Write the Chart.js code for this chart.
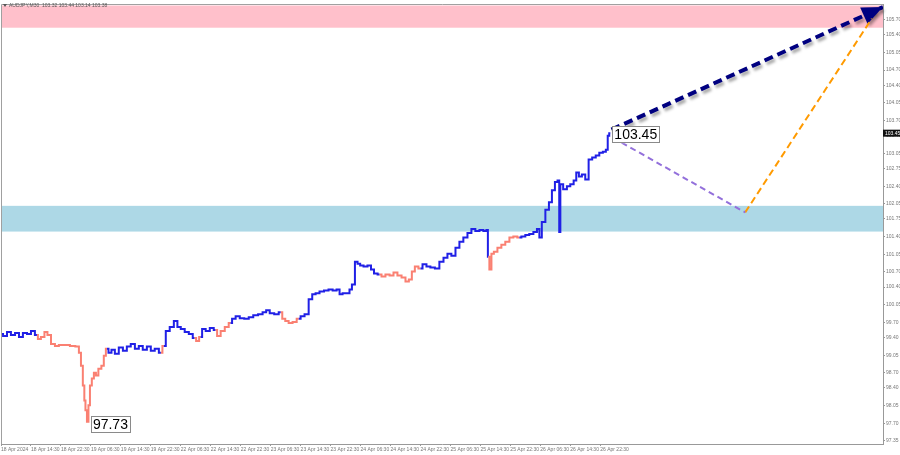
<!DOCTYPE html>
<html>
<head>
<meta charset="utf-8">
<script src="https://cdn.jsdelivr.net/npm/chart.js@4.4.1/dist/chart.umd.min.js"></script>
<style>
  html, body { margin: 0; padding: 0; background: #fff; }
</style>
</head>
<body>
<canvas id="chart" width="900" height="455"></canvas>
<script>
// time axis: chart hours (weekend skipped), one label every 8 hours
const tickLabels = [
  '18 Apr 2024', '18 Apr 14:30', '18 Apr 22:30', '19 Apr 06:30', '19 Apr 14:30', '19 Apr 22:30',
  '22 Apr 06:30', '22 Apr 14:30', '22 Apr 22:30', '23 Apr 06:30', '23 Apr 14:30', '23 Apr 22:30',
  '24 Apr 06:30', '24 Apr 14:30', '24 Apr 22:30', '25 Apr 06:30', '25 Apr 14:30', '25 Apr 22:30',
  '26 Apr 06:30', '26 Apr 14:30', '26 Apr 22:30'
];
const tickStepHours = 8;
const priceTicks = [
  97.35, 97.70, 98.05, 98.40, 98.70, 99.05, 99.40, 99.70, 100.05, 100.40, 100.70, 101.05, 101.40,
  101.75, 102.05, 102.40, 102.75, 103.05, 103.40, 103.70, 104.05, 104.40, 104.70, 105.05, 105.40, 105.70
];

const barHour = [
  0, 1.1, 2.1, 3.2, 4.3, 5.3, 6.4, 7.5, 8.5, 9.6,
  10.1, 11.2, 12, 12.8, 13.9, 14.9, 16, 17.6, 19.2, 20.5, 21.1, 21.6, 22.1, 22.4, 22.7, 23.2, 23.5, 24, 24.5, 25.1, 25.6, 26.4, 27.2, 27.7, 28.3,
  29.1, 29.9, 30.9, 32, 33.1, 34.1, 35.2, 36.3, 37.3, 38.4, 39.5, 40.5, 41.6, 42.7,
  43.5, 44.5, 45.6, 46.7, 47.5, 48.5, 49.6, 50.7, 51.7, 52.5, 53.3,
  54.1, 55.2, 56.3, 57.3, 58.1, 59.2, 60.3, 61.3,
  62.1, 63.2, 64.3, 65.6, 66.7, 68, 69.3, 70.4, 71.2, 72.3, 73.6, 74.7,
  75.5, 76.3, 77.3, 78.4, 79.5,
  80.5, 81.6, 82.7, 83.5, 84.5, 85.6, 86.9, 88, 89.1, 90.1, 90.7, 91.7, 92.8, 93.3, 94.1, 94.9, 95.5, 96.3, 97.3, 98.4, 99.2, 100, 101.1,
  102.1, 103.2, 104.3, 105.3, 106.4, 107.5, 108.5, 109.3, 110.1, 110.9, 112,
  113.1, 114.1, 115.2, 116.5, 117.6, 118.7, 119.7, 120.8, 121.9, 122.9, 124, 125.1, 126.1, 127.2, 128.3, 129.3, 129.9, 130.1,
  130.7, 131.2, 132, 133.1, 134.1, 135.2, 136.3, 137.3, 138.4,
  139.5, 140.5, 141.6, 142.7, 143.5, 144, 144.8, 145.9, 146.7, 147.5, 148.3, 148.9, 149.2, 149.5, 150.7,
  151.5, 152.5, 153.3, 153.9, 154.7, 155.5, 156.5, 157.3, 158.4, 159.2, 160.3, 161.1, 161.9, 162.1, 162.7
];
const prices = [
  99.47, 99.43, 99.51, 99.45, 99.49, 99.41, 99.49, 99.47, 99.53, 99.45,
  99.37, 99.41, 99.51, 99.45, 99.27, 99.23, 99.25, 99.25, 99.23, 99.22, 99.10, 98.84, 98.45, 98.15, 97.96, 97.73, 98.06, 98.45, 98.59, 98.70, 98.65, 98.78, 98.84, 99.04, 99.18,
  99.10, 99.16, 99.08, 99.20, 99.14, 99.22, 99.27, 99.18, 99.23, 99.16, 99.22, 99.14, 99.18, 99.10,
  99.23, 99.53, 99.61, 99.73, 99.61, 99.57, 99.51, 99.47, 99.39, 99.33, 99.41,
  99.57, 99.53, 99.59, 99.55, 99.43, 99.53, 99.61, 99.69,
  99.77, 99.82, 99.78, 99.77, 99.80, 99.84, 99.86, 99.90, 99.94, 99.88, 99.86, 99.90,
  99.77, 99.73, 99.69, 99.71, 99.77,
  99.82, 99.86, 100.16, 100.26, 100.28, 100.31, 100.33, 100.35, 100.33, 100.35, 100.26, 100.28, 100.28, 100.35, 100.45, 100.90, 100.86, 100.83, 100.81, 100.83, 100.75, 100.67, 100.65,
  100.61, 100.65, 100.63, 100.69, 100.63, 100.59, 100.51, 100.55, 100.71, 100.81, 100.77,
  100.85, 100.81, 100.79, 100.77, 100.90, 100.98, 101.06, 101.02, 101.18, 101.30, 101.38, 101.47, 101.55, 101.51, 101.53, 101.51, 101.53, 101.00,
  100.75, 101.06, 101.10, 101.18, 101.24, 101.30, 101.38, 101.40, 101.38,
  101.40, 101.43, 101.45, 101.49, 101.55, 101.38, 101.69, 101.93, 102.08, 102.32, 102.48, 102.51, 101.49, 102.44, 102.34,
  102.40, 102.44, 102.51, 102.67, 102.59, 102.63, 102.53, 102.93, 102.97, 103.01, 103.06, 103.08, 103.12, 103.40, 103.45
];
// downward legs of the wave indicator (hour ranges drawn in salmon)
const redLegs = [[9.6, 28.3], [42.7, 43.5], [51.7, 53.3], [57.3, 61.3], [74.7, 79.5], [101.1, 112], [130.1, 138.4]];

// forecast paths
const mainTargetHour = [163, 235.5];
const mainTargetPrice = [103.52, 105.95];
const correctionHour = [163.4, 198.7];
const correctionPrice = [103.36, 101.88];
const extensionHour = [198.7, 232.5];
const extensionPrice = [101.88, 105.72];

const resistanceZone = [105.54, 105.98];
const supportZone = [101.50, 102.01];
const header = 'AUDJPY,M30  103.32 103.44 103.14 103.38';

const BLUE = '#2020e6';
const RED = '#fa8072';
const tinyFont = { family: 'Liberation Sans', size: 5 };

const pts = (xs, ys) => xs.map((x, i) => ({ x: x, y: ys[i] }));
const isRed = (a, b) => redLegs.some(r => a >= r[0] && b <= r[1]);

const zonePlugin = {
  id: 'zones',
  beforeDatasetsDraw(chart) {
    const { ctx, chartArea: a, scales: { y } } = chart;
    ctx.save();
    ctx.fillStyle = '#ffc0cb';
    ctx.fillRect(a.left, y.getPixelForValue(resistanceZone[1]), a.right - a.left,
      y.getPixelForValue(resistanceZone[0]) - y.getPixelForValue(resistanceZone[1]));
    ctx.fillStyle = '#add8e6';
    ctx.fillRect(a.left, y.getPixelForValue(supportZone[1]), a.right - a.left,
      y.getPixelForValue(supportZone[0]) - y.getPixelForValue(supportZone[1]));
    ctx.restore();
  }
};

// shadow + arrowhead on the main target line
const arrowPlugin = {
  id: 'arrow',
  beforeDatasetDraw(chart, args) {
    if (args.index !== 3) return;
    const ctx = chart.ctx;
    ctx.save();
    ctx.shadowColor = 'rgba(0,0,0,0.35)';
    ctx.shadowOffsetX = 2;
    ctx.shadowOffsetY = 3;
    ctx.shadowBlur = 3;
  },
  afterDatasetDraw(chart, args) {
    if (args.index !== 3) return;
    const ctx = chart.ctx;
    const { x, y } = chart.scales;
    const x0 = x.getPixelForValue(mainTargetHour[0]), y0 = y.getPixelForValue(mainTargetPrice[0]);
    const x1 = x.getPixelForValue(mainTargetHour[1]), y1 = y.getPixelForValue(mainTargetPrice[1]);
    const ang = Math.atan2(y1 - y0, x1 - x0);
    const L = 21, W = 9;
    const bx = x1 - L * Math.cos(ang), by = y1 - L * Math.sin(ang);
    ctx.fillStyle = '#000080';
    ctx.beginPath();
    ctx.moveTo(x1, y1);
    ctx.lineTo(bx + W * Math.sin(ang), by - W * Math.cos(ang));
    ctx.lineTo(bx - W * Math.sin(ang), by + W * Math.cos(ang));
    ctx.closePath();
    ctx.fill();
    ctx.restore();
  }
};

function drawTag(ctx, left, cy, text) {
  ctx.font = '14px "Liberation Sans"';
  const w = ctx.measureText(text).width + 4;
  ctx.fillStyle = '#fff';
  ctx.fillRect(left, cy - 8, w, 17);
  ctx.strokeStyle = '#8a8a8a';
  ctx.lineWidth = 1;
  ctx.strokeRect(Math.round(left) + 0.5, Math.round(cy - 8) + 0.5, Math.round(w), 16);
  ctx.fillStyle = '#000';
  ctx.textBaseline = 'middle';
  ctx.textAlign = 'left';
  ctx.fillText(text, left + 2, cy + 1);
}

const labelPlugin = {
  id: 'labels',
  afterDatasetsDraw(chart) {
    const { ctx, scales: { x, y } } = chart;
    const lo = prices.indexOf(Math.min(...prices));
    const last = prices.length - 1;
    ctx.save();
    drawTag(ctx, x.getPixelForValue(barHour[lo]) + 3, y.getPixelForValue(prices[lo]) + 2, prices[lo].toFixed(2));
    drawTag(ctx, x.getPixelForValue(barHour[last]) + 2, y.getPixelForValue(prices[last]) + 1, prices[last].toFixed(2));
    ctx.restore();
  },
  afterDraw(chart) {
    const { ctx, chartArea: a, scales: { y } } = chart;
    ctx.save();
    // frame top/left
    ctx.strokeStyle = '#a0a0a0';
    ctx.lineWidth = 1;
    ctx.beginPath();
    ctx.moveTo(a.left + 0.5, a.bottom);
    ctx.lineTo(a.left + 0.5, a.top + 0.5);
    ctx.lineTo(a.right, a.top + 0.5);
    ctx.stroke();
    // current price marker on the axis
    const py = y.getPixelForValue(prices[prices.length - 1]);
    ctx.fillStyle = '#111';
    ctx.fillRect(a.right, py - 3.5, 900 - a.right, 7);
    ctx.fillStyle = '#fff';
    ctx.font = '5px "Liberation Sans"';
    ctx.textBaseline = 'middle';
    ctx.fillText(prices[prices.length - 1].toFixed(2), a.right + 2, py);
    // header
    ctx.fillStyle = '#555';
    ctx.beginPath();
    ctx.moveTo(3, 4); ctx.lineTo(7, 4); ctx.lineTo(5, 7); ctx.closePath();
    ctx.fill();
    ctx.fillText(header, 9, 6);
    ctx.restore();
  }
};

new Chart(document.getElementById('chart'), {
  type: 'line',
  data: {
    datasets: [
      {
        data: pts(barHour, prices),
        borderColor: BLUE,
        borderWidth: 2,
        pointRadius: 0,
        stepped: 'middle',
        segment: {
          borderColor: c => isRed(barHour[c.p0DataIndex], barHour[c.p1DataIndex]) ? RED : BLUE
        }
      },
      { data: pts(correctionHour, correctionPrice), borderColor: '#9370db', borderWidth: 2, borderDash: [6, 4], pointRadius: 0 },
      { data: pts(extensionHour, extensionPrice), borderColor: '#ff9a00', borderWidth: 2, borderDash: [7, 4], pointRadius: 0 },
      { data: pts(mainTargetHour, mainTargetPrice), borderColor: '#000080', borderWidth: 4, borderDash: [9, 5], pointRadius: 0 }
    ]
  },
  options: {
    responsive: false,
    animation: false,
    layout: { padding: 0 },
    plugins: { legend: { display: false }, tooltip: { enabled: false } },
    scales: {
      x: {
        type: 'linear',
        min: 0,
        max: 235.5,
        afterBuildTicks: s => { s.ticks = tickLabels.map((_, i) => ({ value: i * tickStepHours })); },
        afterFit: s => { s.height = 11; },
        ticks: {
          callback: (v, i) => tickLabels[i],
          align: 'start',
          autoSkip: false,
          maxRotation: 0,
          padding: 1,
          font: tinyFont,
          color: '#777'
        },
        grid: { drawOnChartArea: false, tickLength: 2, color: '#999' },
        border: { color: '#999' }
      },
      y: {
        position: 'right',
        min: 97.29,
        max: 106.01,
        afterBuildTicks: s => { s.ticks = priceTicks.map(v => ({ value: v })); },
        afterFit: s => { s.width = 17; },
        ticks: {
          callback: v => v.toFixed(2),
          autoSkip: false,
          padding: 1,
          font: tinyFont,
          color: '#777'
        },
        grid: { drawOnChartArea: false, tickLength: 2, color: '#999' },
        border: { color: '#999' }
      }
    }
  },
  plugins: [zonePlugin, arrowPlugin, labelPlugin]
});
</script>
</body>
</html>
